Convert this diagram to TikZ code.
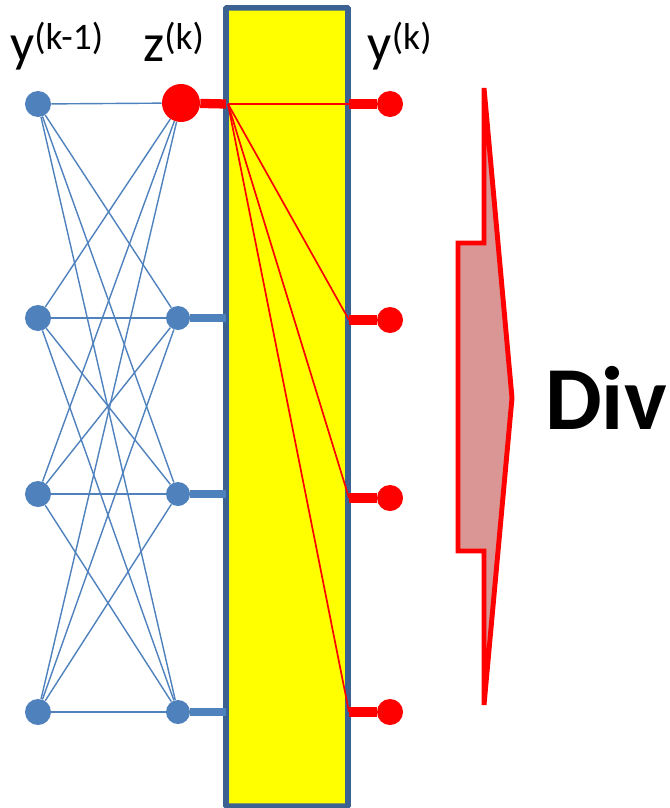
\documentclass[tikz,border=0pt]{standalone}
\usepackage{fontspec}
\setmainfont{Carlito}
\usetikzlibrary{calc}
\definecolor{unitblue}{RGB}{79,129,189}
\definecolor{boxblue}{RGB}{60,98,146}
\definecolor{actyellow}{RGB}{255,255,0}
\definecolor{outred}{RGB}{255,0,0}
\definecolor{arrowpink}{RGB}{217,150,148}
\tikzset{
  unit/.style={circle,fill=unitblue,inner sep=0pt,minimum size=6.5mm},
  outunit/.style={circle,fill=outred,inner sep=0pt,minimum size=6.5mm},
  bigunit/.style={circle,fill=outred,inner sep=0pt,minimum size=9.5mm},
  link/.style={unitblue,line width=1pt},
  stub/.style={unitblue,line width=6.3pt},
  redstub/.style={outred,line width=6.6pt},
  redlink/.style={outred,line width=1.2pt},
  actbox/.style={draw=boxblue,fill=actyellow,line width=4pt,rounded corners=0.5pt,
                 minimum width=3.05cm,minimum height=19.95cm,inner sep=0pt},
  lab/.style={font=\fontsize{38}{40}\selectfont,anchor=base},
}

\begin{document}
\begin{tikzpicture}[x=0.025cm,y=-0.025cm]
  \path[use as bounding box] (0,0) rectangle (670,808);

  % softmax box
  \node[actbox] (act) at (287,407) {};

  % previous layer and affine layer
  \foreach \i/\y in {1/104,2/318,3/494,4/712} {
    \node[unit] (l\i) at (38,\y) {};
    \coordinate (in\i) at (226,\y);
  }
  \foreach \i/\y in {2/318,3/494,4/712} {
    \node[unit,minimum size=6mm] (z\i) at (178,\y) {};
  }
  \node[bigunit] (z1) at (181,103) {};
  \foreach \i in {1,...,4} {
    \foreach \j in {1,...,4} {
      \draw[link] (l\i) -- (z\j);
    }
  }
  \foreach \i in {2,3,4} {
    \draw[stub] (z\i) -- (in\i);
  }
  \draw[redstub] (z1) -- (in1);

  % outputs
  \coordinate (src) at (228,104);
  \foreach \i/\y in {1/104,2/320,3/498,4/712} {
    \coordinate (edge\i) at (349,\y);
    \node[outunit] (o\i) at (390,\y) {};
    \draw[redstub] (edge\i) -- (o\i);
  }
  \foreach \i in {1,...,4} {
    \draw[redlink] (src) -- (edge\i);
  }

  % labels
  \node[lab] (ylab) at (57,62) {y\textsuperscript{(k-1)}};
  \node[lab] (zlab) at (174,62) {z\textsuperscript{(k)}};
  \node[lab] (olab) at (400,62) {y\textsuperscript{(k)}};

  % divergence arrow
  \draw[outred,fill=arrowpink,line width=3.5pt,line join=miter]
    (484,88) -- (484,243) -- (458,243) -- (458,551) -- (484,551) -- (484,705)
    -- (512,398) -- cycle;
  \node[font=\fontsize{64}{66}\selectfont\bfseries,anchor=base] (div) at (606,429) {Div};
\end{tikzpicture}
\end{document}
